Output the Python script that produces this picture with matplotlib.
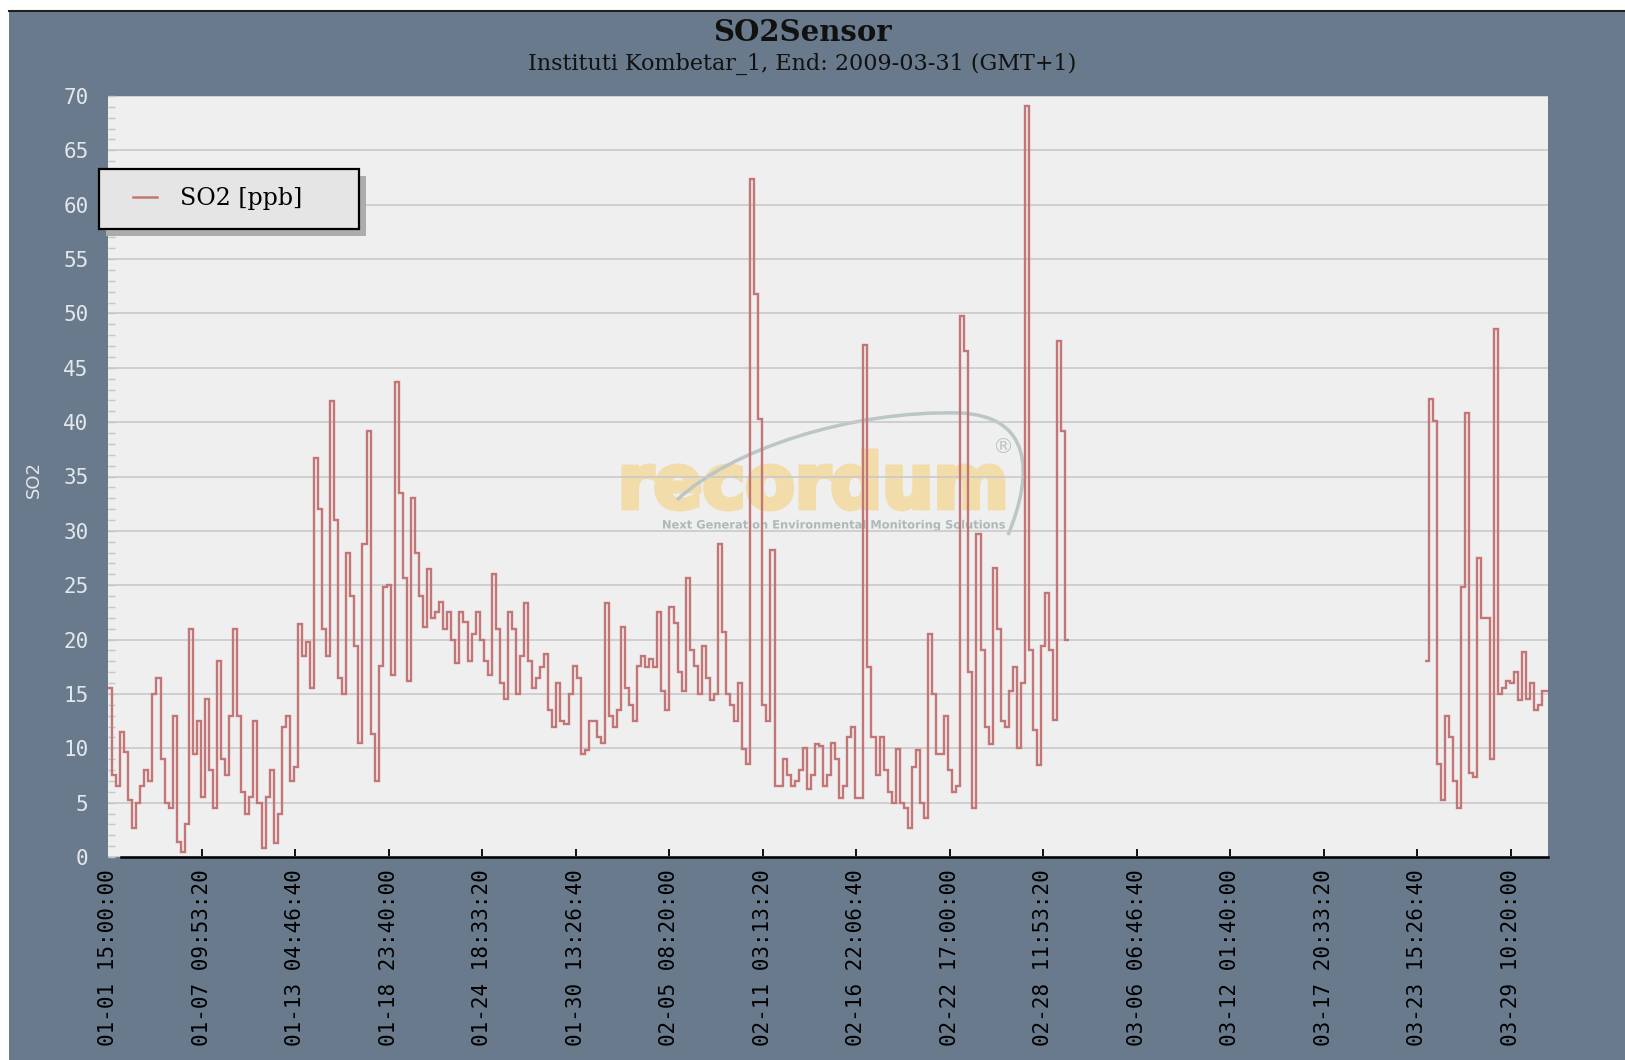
"""SO2 sensor time series, Instituti Kombetar_1, Jan-Mar 2009."""

import matplotlib
matplotlib.use('Agg')
import matplotlib.pyplot as plt
import matplotlib.dates as mdates
import matplotlib.ticker as mticker
from matplotlib.patches import Rectangle, PathPatch
from matplotlib.lines import Line2D
from matplotlib.legend_handler import HandlerLine2D
from matplotlib.path import Path
from matplotlib.textpath import TextPath
from matplotlib.transforms import Affine2D, IdentityTransform
from matplotlib.font_manager import FontProperties
import pandas as pd


W, H = 1625, 1060
SLATE = '#687a8c'
PLOT_BG = '#efefef'
LINE_C = '#c47676'

# readings every 6 h from the start of the window
START_JAN = '2009-01-01 15:00'
SO2_JAN_FEB = [
    15.5, 7.5, 6.5, 11.5, 9.7, 5.2, 2.7, 5, 6.5, 8, 7, 15, 16.5, 9, 5, 4.5, 13, 1.4, 0.5, 3,
    21, 9.5, 12.5, 5.5, 14.5, 8, 4.5, 18, 9, 7.5, 13, 21, 13, 6, 4, 5.5, 12.5, 5, 0.8, 5.5,
    8, 1.3, 4, 12, 13, 7, 8.3, 21.4, 18.5, 19.8, 15.5, 36.7, 32, 21, 18.5, 41.9, 31, 16.5, 15, 28,
    24, 19.4, 10.5, 28.8, 39.2, 11.3, 7, 17.6, 24.8, 25, 16.7, 43.7, 33.5, 25.7, 16.2, 33, 28, 24, 21.2, 26.5,
    22, 22.5, 23.5, 21, 22.5, 20, 17.8, 22.5, 21.6, 18, 20.5, 22.5, 20, 18, 16.7, 26, 21, 16, 14.5, 22.5,
    21, 15, 18.5, 23.4, 18, 15.5, 16.5, 17.5, 18.7, 13.5, 12, 16, 12.5, 12.2, 15, 17.6, 16.5, 9.5, 9.8, 12.5,
    12.5, 11, 10.5, 23.4, 13, 12, 13.5, 21.2, 15.5, 14, 12.5, 17.6, 18.5, 17.5, 18.2, 17.5, 22.5, 15.3, 13.5, 23,
    21.5, 17, 15.3, 25.7, 19, 17.6, 15, 19.4, 16.5, 14.4, 15, 28.8, 20.7, 15, 14, 12.5, 16, 9.9, 8.6, 62.4,
    51.8, 40.3, 14, 12.5, 28.2, 6.5, 6.5, 9, 7.5, 6.5, 7, 8, 10, 6.3, 7.5, 10.4, 10.2, 6.5, 7.5, 10.5,
    9, 5.4, 6.5, 11, 12, 5.4, 5.4, 47.1, 17.5, 11, 7.5, 11, 8, 6, 5, 9.9, 5, 4.5, 2.7, 8.3,
    9.8, 5, 3.6, 20.5, 15, 9.5, 9.5, 13, 8, 6, 6.5, 49.8, 46.5, 17, 4.5, 29.7, 19, 12, 10.4, 26.6,
    21, 12.5, 12, 15.3, 17.5, 10, 16, 69.1, 19, 11.7, 8.5, 19.4, 24.3, 19, 12.6, 47.5, 39.2, 20,
]
# readings after the logger outage
START_MAR = '2009-03-24 03:00'
SO2_MAR = [
    18, 42.1, 40.1, 8.6, 5.2, 13, 11, 7, 4.5, 24.8, 40.8, 7.7, 7.4, 27.5, 22, 22,
    9, 48.6, 15, 15.5, 16.2, 16, 17, 14.4, 18.9, 14.5, 16, 13.5, 14, 15.3, 15.3,
]
STEP = '6h'
TICK_SECONDS = 500000
N_TICKS = 16
SPAN_DAYS = 89.12

TITLE = 'SO2Sensor'
SUBTITLE = 'Instituti Kombetar_1, End: 2009-03-31 (GMT+1)'
LEGEND_LABEL = 'SO2 [ppb]'


def edges(start, values):
    """Step edges in matplotlib date numbers."""
    idx = pd.date_range(start, periods=len(values) + 1, freq=STEP)
    return mdates.date2num(idx.to_pydatetime())


def add_watermark(ax):
    """Faded 'recordum' logo behind the grid, placed in pixels."""
    bold = FontProperties(family='DejaVu Sans', weight='bold')
    word = TextPath((0, 0), 'recordum', size=100, prop=bold)
    ext = word.get_extents()
    tr = (Affine2D().translate(-ext.x0, -ext.y0)
          .scale(379 / ext.width, 58 / ext.height).translate(624, H - 509))
    ax.add_artist(PathPatch(word, transform=tr, facecolor='#f1dcaa',
                            edgecolor='#f1dcaa', lw=3.5, zorder=0.3))

    tag = TextPath((0, 0), 'Next Generation Environmental Monitoring Solutions',
                   size=100, prop=bold)
    ext = tag.get_extents()
    s = 342 / ext.width
    tr = Affine2D().translate(-ext.x0, -ext.y0).scale(s, s).translate(663, H - 531)
    ax.add_artist(PathPatch(tag, transform=tr, facecolor='#aeb8b8',
                            edgecolor='none', zorder=0.3))

    verts = [(677, 500), (730, 450), (850, 410), (960, 413),
             (1030, 416), (1035, 470), (1008, 535)]
    codes = [Path.MOVETO] + [Path.CURVE4] * 6
    swoosh = Path([(x, H - y) for x, y in verts], codes)
    ax.add_artist(PathPatch(swoosh, transform=IdentityTransform(), fill=False,
                            edgecolor='#bcc6c6', lw=2.5, zorder=0.35))
    ax.text(1003, H - 447, '\u00ae', transform=IdentityTransform(),
            ha='center', va='center', fontsize=15, color='#bcc6c6',
            family='DejaVu Sans', zorder=0.3)


def main():
    plt.rcParams['font.family'] = 'DejaVu Sans Mono'

    fig = plt.figure(figsize=(W / 100, H / 100), dpi=100, facecolor='white')
    fig.add_artist(Rectangle((9 / W, 0), 1, 1 - 11 / H, transform=fig.transFigure,
                             facecolor=SLATE, edgecolor='none', zorder=-10))
    fig.add_artist(Line2D([9 / W, 1], [1 - 11 / H] * 2, transform=fig.transFigure,
                          color='#202020', lw=1.5, zorder=-9))

    ax = fig.add_axes([108 / W, 1 - 857 / H, 1440 / W, 761 / H])
    ax.set_facecolor(PLOT_BG)
    ax.set_axisbelow(True)

    # data
    ax.stairs(SO2_JAN_FEB, edges(START_JAN, SO2_JAN_FEB), baseline=None,
              color=LINE_C, lw=1.7, zorder=2)
    ax.stairs(SO2_MAR, edges(START_MAR, SO2_MAR), baseline=None,
              color=LINE_C, lw=1.7, zorder=2)

    # x axis: ticks every 500000 s from window start
    x0 = mdates.date2num(pd.Timestamp(START_JAN).to_pydatetime())
    ax.set_xlim(x0, x0 + SPAN_DAYS)
    ticks = [x0 + k * TICK_SECONDS / 86400 for k in range(N_TICKS)]
    ax.xaxis.set_major_locator(mticker.FixedLocator(ticks))
    ax.xaxis.set_major_formatter(mdates.DateFormatter('%m-%d %H:%M:%S'))
    ax.tick_params(axis='x', direction='in', length=6, width=1.3, color='black',
                   pad=8.5, labelsize=15, labelcolor='black', labelrotation=90)
    ax.xaxis.get_major_ticks()[0].tick1line.set_visible(False)

    # y axis
    ax.set_ylim(0, 70)
    ax.yaxis.set_major_locator(mticker.MultipleLocator(5))
    ax.yaxis.set_minor_locator(mticker.MultipleLocator(1))
    ax.tick_params(axis='y', which='both', direction='in', length=5, width=1,
                   color='#c6c6c6', pad=14, labelsize=15, labelcolor='#e3e7eb')
    ax.grid(axis='y', which='major', color='#c9c9c9', lw=1.2)

    for side in ('left', 'top', 'right'):
        ax.spines[side].set_visible(False)
    ax.spines['bottom'].set_color('black')
    ax.spines['bottom'].set_linewidth(1.8)
    ax.spines['bottom'].set_bounds(x0 + 0.8, x0 + SPAN_DAYS)

    add_watermark(ax)

    # titles and axis label
    fig.text(802.5 / W, 1 - 32.5 / H, TITLE, ha='center', va='center',
             family='DejaVu Serif', weight='bold', size=21, color='#111111')
    fig.text(802 / W, 1 - 64 / H, SUBTITLE, ha='center', va='center',
             family='DejaVu Serif', size=16, color='#111111')
    fig.text(34 / W, 1 - 479 / H, 'SO2', rotation=90, ha='center', va='center',
             family='DejaVu Sans', size=13, color='#e3e7eb')

    # legend
    proxy = Line2D([], [], color=LINE_C, lw=1.8)
    leg = fig.legend([proxy], [LEGEND_LABEL], loc='upper left',
                     bbox_to_anchor=(99 / W, 1 - 169 / H, 260 / W, 0),
                     mode='expand', borderaxespad=0,
                     handler_map={proxy: HandlerLine2D(xpad=0.66)},
                     handlelength=1.69, handletextpad=0.95, borderpad=0.78,
                     fancybox=False, framealpha=1, facecolor='#e5e5e5',
                     edgecolor='black',
                     shadow={'ox': 5, 'oy': -5, 'facecolor': '#acacac',
                             'edgecolor': 'none', 'alpha': 1},
                     prop=FontProperties(family='DejaVu Serif', size=17))
    leg.get_frame().set_linewidth(1.6)

    fig.savefig('out.png', dpi=100, facecolor=fig.get_facecolor())


if __name__ == '__main__':
    main()
